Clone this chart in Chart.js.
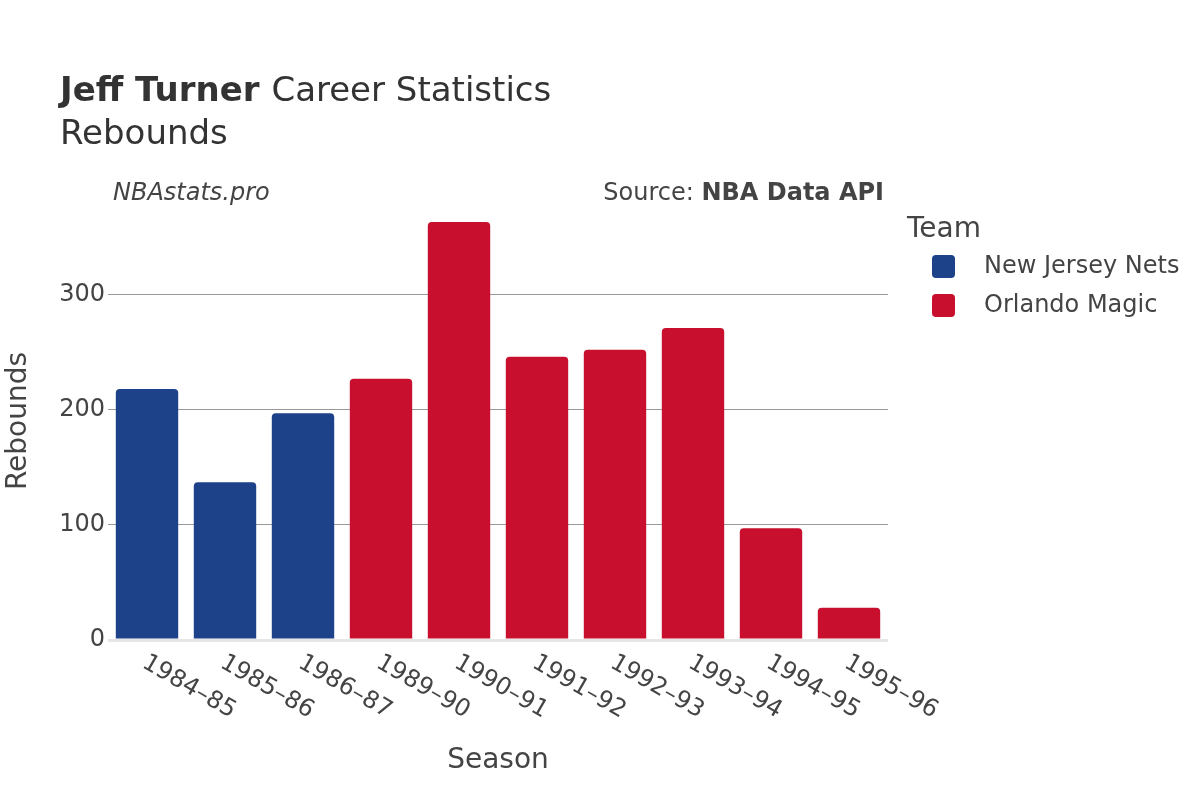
<!DOCTYPE html>
<html>
<head>
<meta charset="utf-8">
<script src="https://cdn.jsdelivr.net/npm/chart.js@4.4.1/dist/chart.umd.min.js"></script>
<style>
  html, body { margin: 0; padding: 0; background: #fff; }
  #wrap { width: 1200px; height: 800px; position: relative; }
</style>
</head>
<body>
<div id="wrap"><canvas id="chart" width="1200" height="800"></canvas></div>
<script>
// Data
const seasons = ["1984–85", "1985–86", "1986–87", "1989–90", "1990–91",
  "1991–92", "1992–93", "1993–94", "1994–95", "1995–96"];
const netsRebounds = [218, 137, 197, null, null, null, null, null, null, null];
const magicRebounds = [null, null, null, 227, 363, 246, 252, 271, 97, 28];
const yTicks = [0, 100, 200, 300];

const FONT = "'DejaVu Sans', sans-serif";
const TEXT = "#444";
const NETS = "#1D428A";
const MAGIC = "#C8102E";

// Titles, annotations, legend and rotated season labels
const decorPlugin = {
  id: "decor",
  afterDraw(chart) {
    const c = chart.ctx;
    c.save();
    c.fillStyle = "#333";
    c.textBaseline = "alphabetic";
    c.textAlign = "left";
    c.font = "bold 34px " + FONT;
    c.fillText("Jeff Turner", 60, 101);
    const w = c.measureText("Jeff Turner ").width;
    c.font = "34px " + FONT;
    c.fillText("Career Statistics", 60 + w, 101);
    c.fillText("Rebounds", 60, 144);

    c.fillStyle = TEXT;
    c.font = "italic 24px " + FONT;
    c.fillText("NBAstats.pro", 113, 200);

    c.textAlign = "right";
    c.font = "bold 24px " + FONT;
    c.fillText("NBA Data API", 884, 200);
    const bw = c.measureText("NBA Data API").width;
    c.font = "24px " + FONT;
    c.fillText("Source: ", 884 - bw, 200);

    // legend
    c.textAlign = "left";
    c.font = "28px " + FONT;
    c.fillText("Team", 907, 237);
    const items = [["New Jersey Nets", NETS], ["Orlando Magic", MAGIC]];
    items.forEach(([name, col], i) => {
      const y = 266 + i * 39;
      c.fillStyle = col;
      c.beginPath();
      c.roundRect(932, y - 11, 23, 23, 4);
      c.fill();
      c.fillStyle = TEXT;
      c.font = "24px " + FONT;
      c.textBaseline = "middle";
      c.fillText(name, 984, y + 1);
      c.textBaseline = "alphabetic";
    });

    // x tick labels, rotated 30deg clockwise
    const xs = chart.scales.x;
    c.font = "24px " + FONT;
    c.fillStyle = TEXT;
    c.textBaseline = "middle";
    seasons.forEach((s, i) => {
      const x = xs.getPixelForTick(i);
      c.save();
      c.translate(x - 3, 661);
      c.rotate(Math.PI / 6);
      c.fillText(s, 0, 0);
      c.restore();
    });
    c.restore();
  }
};

const ctx = document.getElementById("chart").getContext("2d");
new Chart(ctx, {
  type: "bar",
  data: {
    labels: seasons,
    datasets: [
      {
        label: "New Jersey Nets",
        data: netsRebounds,
        backgroundColor: NETS,
        borderRadius: 4,
        borderSkipped: "bottom",
      },
      {
        label: "Orlando Magic",
        data: magicRebounds,
        backgroundColor: MAGIC,
        borderRadius: 4,
        borderSkipped: "bottom",
      },
    ],
  },
  options: {
    responsive: false,
    animation: false,
    layout: { padding: { top: 202, right: 312, left: 0, bottom: 0 } },
    datasets: { bar: { barPercentage: 0.8, categoryPercentage: 1.0 } },
    plugins: { legend: { display: false }, tooltip: { enabled: false } },
    scales: {
      x: {
        stacked: true,
        grid: { display: false },
        border: { display: false },
        ticks: { display: false },
        title: {
          display: true,
          text: "Season",
          color: TEXT,
          font: { family: FONT, size: 28 },
          padding: { top: 0, bottom: 22 },
        },
        afterFit(s) { s.height = 160; },
      },
      y: {
        stacked: true,
        min: 0,
        max: 380.4,
        afterBuildTicks(s) { s.ticks = yTicks.map(v => ({ value: v })); },
        grid: {
          color: ctx => ctx.tick && ctx.tick.value === 0 ? "#e6e6e6" : "#999",
          lineWidth: ctx => ctx.tick && ctx.tick.value === 0 ? 3 : 1,
          drawTicks: true,
          tickLength: 2,
          tickColor: "#fff",
        },
        border: { display: false },
        ticks: {
          color: TEXT,
          font: { family: FONT, size: 24 },
          padding: 1,
        },
        title: {
          display: true,
          text: "Rebounds",
          color: TEXT,
          font: { family: FONT, size: 28 },
          padding: { top: 2, bottom: 0 },
        },
        afterFit(s) { s.width = 108; },
      },
    },
  },
  plugins: [decorPlugin],
});
</script>
</body>
</html>
